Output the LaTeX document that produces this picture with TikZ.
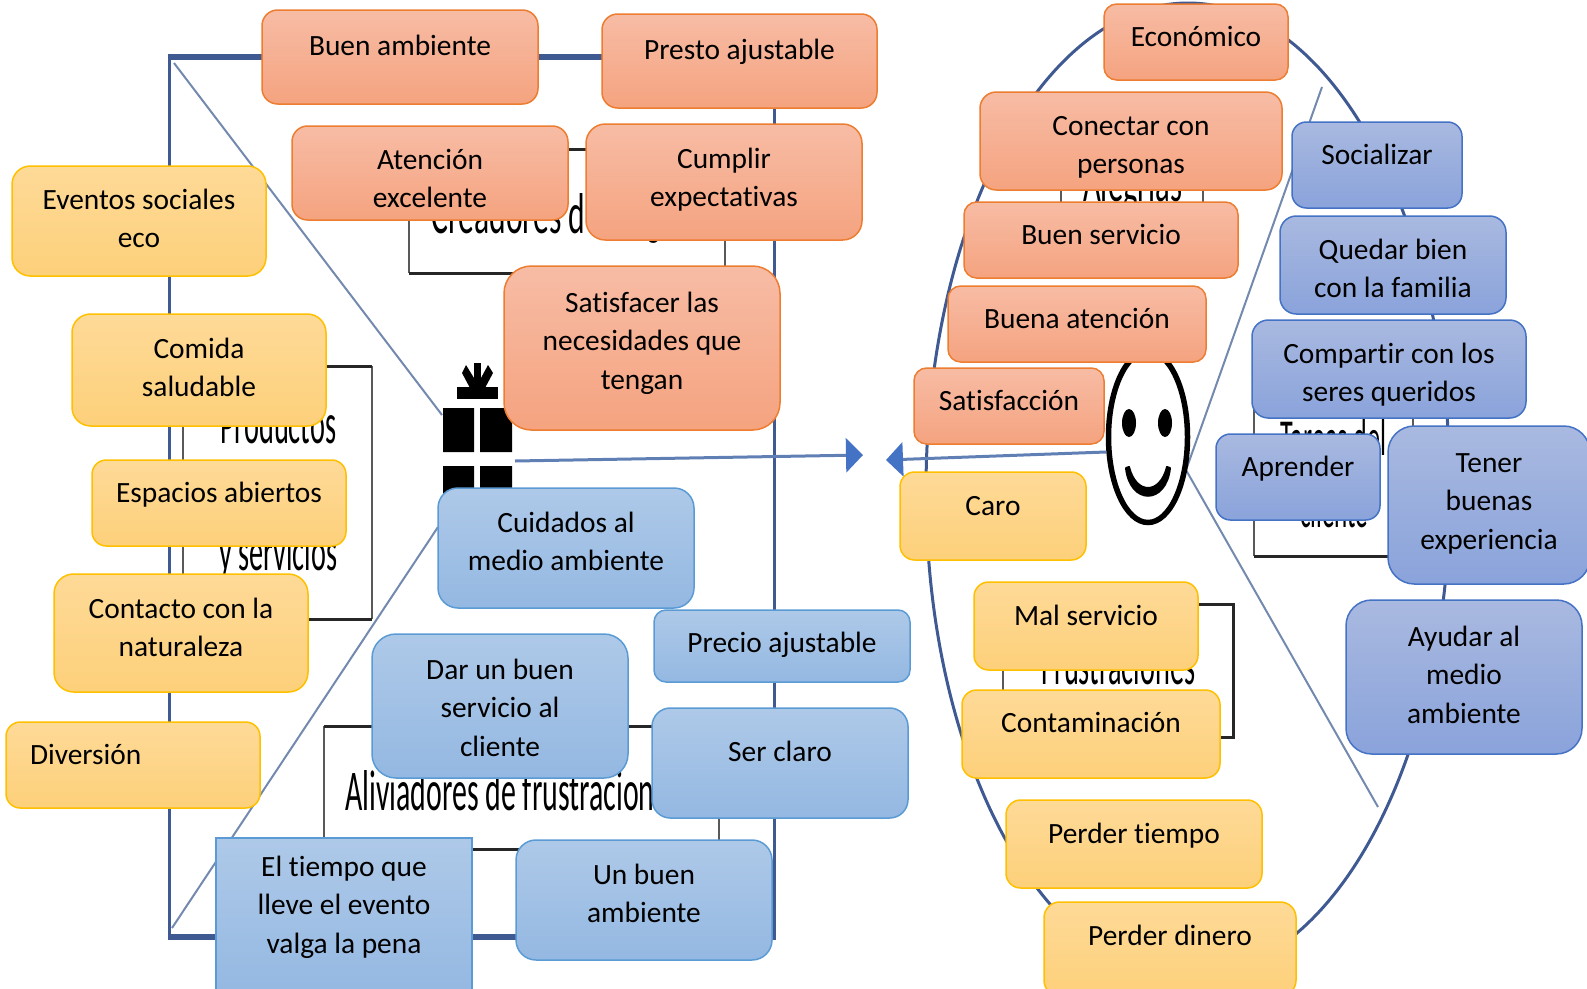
\documentclass[tikz,border=0pt]{standalone}
\usepackage{fontspec}
\setmainfont[Ligatures=NoCommon]{Carlito}
\usetikzlibrary{arrows.meta}
\definecolor{frameblue}{HTML}{3F5A92}
\definecolor{thinblue}{HTML}{7389AE}
\definecolor{arrowblue}{HTML}{4472C4}
\definecolor{arrowstem}{HTML}{5F7FB5}
\tikzset{
  basebox/.style={draw,inner sep=0pt,line width=1.5pt,font=\fontsize{29.4}{38.7}\selectfont},
  orangebox/.style={basebox,draw={rgb,255:red,237;green,125;blue,49},top color={rgb,255:red,247;green,188;blue,165},bottom color={rgb,255:red,245;green,163;blue,127}},
  yellowbox/.style={basebox,draw={rgb,255:red,255;green,192;blue,0},top color={rgb,255:red,254;green,218;blue,152},bottom color={rgb,255:red,253;green,208;blue,122}},
  bluebox/.style={basebox,draw={rgb,255:red,91;green,155;blue,213},top color={rgb,255:red,174;green,201;blue,232},bottom color={rgb,255:red,148;green,184;blue,226}},
  indigobox/.style={basebox,draw={rgb,255:red,68;green,114;blue,196},top color={rgb,255:red,169;green,185;blue,224},bottom color={rgb,255:red,138;green,163;blue,219}},
  framethin/.style={draw=frameblue,line width=3pt},
  framethick/.style={draw=frameblue,line width=6pt},
  diagline/.style={draw=thinblue,line width=2pt},
  blackedge/.style={draw=black!85,line width=3pt},
  grayedge/.style={draw=black!65,line width=2pt},
  arrowstyle/.style={draw=arrowstem,line width=3pt,-{Triangle[length=17pt,width=34pt,color=arrowblue]}},
  bgtext/.style={inner sep=0pt,anchor=base west,font=\fontsize{60}{60}\selectfont},
}
\newcommand{\bx}[8]{%
  \pgfmathsetmacro{\boxW}{#5-#3}%
  \pgfmathsetmacro{\boxH}{#6-#4}%
  \pgfmathsetmacro{\boxD}{#7-#4}%
  \pgfmathsetmacro{\boxR}{min(\boxW,\boxH)/6}%
  \node[rounded corners=\boxR pt,#2] (#1) at ({(#3+#5)/2},{(#4+#6)/2})
    {\parbox[c][\boxH pt][t]{\boxW pt}{\centering\rule{0pt}{\boxD pt}#8}};%
}
\newcommand{\bgt}[6]{\node[bgtext] (#1) at (#2,#3) {\resizebox{#4pt}{#5pt}{#6}};}
\begin{document}
\begin{tikzpicture}[x=1pt,y=-1pt]
\path[use as bounding box,clip] (0,0) rectangle (1587,988);
% square
\draw[framethin] (169,57) rectangle (774,937);
\draw[framethick] (168,57) -- (776,57);
\draw[framethick] (168,937) -- (776,937);
\draw[diagline] (174,63) -- (442,415);
\draw[diagline] (172,928) -- (438,527);
% inner frames of the square
\draw[grayedge] (409,149) -- (409,273) (725,149) -- (725,273);
\draw[blackedge] (409,149) -- (725,149) (409,273) -- (725,273);
\bgt{creadores}{431}{233}{276}{40}{Creadores de alegrías}
\draw[grayedge] (183,366) -- (183,619) (372,366) -- (372,619);
\draw[blackedge] (183,366) -- (372,366) (183,619) -- (372,619);
\bgt{productos}{220}{443}{116}{40}{Productos}
\bgt{servicios}{219}{570}{118}{38}{y servicios}
\draw[grayedge] (324,726) -- (324,849) (719,726) -- (719,849);
\draw[blackedge] (324,726) -- (719,726) (324,849) -- (719,849);
\bgt{aliviadores}{345}{810}{336}{40}{Aliviadores de frustraciones}
% gift
\fill[black] (474,363) rectangle (481,388);
\fill[black] (466,365) -- (474,378) -- (474,388) -- (470,388) -- (462,373) -- cycle;
\fill[black] (488,365) -- (481,378) -- (481,388) -- (485,388) -- (493,373) -- cycle;
\fill[black] (457,387) rectangle (498,399);
\fill[black] (443,408) rectangle (474,452) (480,408) rectangle (512,452);
\fill[black] (443,466) rectangle (474,500) (480,466) rectangle (512,500);
% circle
\draw[framethin] (1188,490) ellipse [x radius=262,y radius=487];
\coordinate (vtop) at (1322,87);
\coordinate (vmid) at (1186,470);
\coordinate (vbot) at (1378,807);
\draw[diagline] (vtop) -- (vmid) -- (vbot);
% inner frames of the circle
\draw[grayedge] (1061,150) -- (1061,250) (1203,150) -- (1203,250);
\bgt{alegrias}{1083}{201}{99}{40}{Alegrías}
\draw[grayedge] (1254,400) -- (1254,556) (1413,400) -- (1413,556);
\draw[blackedge] (1254,556) -- (1413,556);
\bgt{tareas}{1280}{455}{106}{36}{Tareas del}
\bgt{cliente}{1300}{527}{68}{36}{cliente}
\draw[grayedge] (1003,604) -- (1003,737);
\draw[blackedge] (1003,604) -- (1233,604) -- (1233,737) -- (1003,737);
\bgt{frustraciones}{1041}{684}{154}{40}{Frustraciones}
% smiley
\draw[black,line width=5.5pt,fill=white] (1148,437) ellipse [x radius=39.5,y radius=85.5];
\fill[black] (1129,423) ellipse [x radius=7,y radius=14] (1165,423) ellipse [x radius=7,y radius=14];
\filldraw[black,line width=2pt,line join=round] (1126,468) .. controls (1130,505) and (1166,505) .. (1170,468) -- (1167,467) .. controls (1160,495) and (1136,495) .. (1129,467) -- cycle;
% arrows
\coordinate (giftout) at (515,461);
\coordinate (gifttip) at (863,455);
\coordinate (faceout) at (1106,452);
\coordinate (facetip) at (886,460);
\draw[arrowstyle] (giftout) -- (gifttip);
\draw[arrowstyle] (faceout) -- (facetip);
% orange boxes
\bx{buenamb}{orangebox}{262}{10}{538}{104}{55}{Buen ambiente}
\bx{presto}{orangebox}{602}{14}{877}{108}{59}{Presto ajustable}
\bx{atencion}{orangebox}{292}{126}{568}{220}{169}{Atención\\excelente}
\bx{cumplir}{orangebox}{586}{124}{862}{240}{168}{Cumplir\\expectativas}
\bx{satisfacer}{orangebox}{504}{266}{780}{430}{312}{Satisfacer las\\necesidades que\\tengan}
\bx{economico}{orangebox}{1104}{4}{1288}{80}{46}{Económico}
\bx{conectar}{orangebox}{980}{92}{1282}{190}{135}{Conectar con\\personas}
\bx{buenserv}{orangebox}{964}{202}{1238}{278}{244}{Buen servicio}
\bx{buenaat}{orangebox}{948}{286}{1206}{362}{328}{Buena atención}
\bx{satisf}{orangebox}{914}{368}{1104}{444}{410}{Satisfacción}
% yellow boxes
\bx{eventos}{yellowbox}{12}{166}{266}{276}{209}{Eventos sociales\\eco}
\bx{comida}{yellowbox}{72}{314}{326}{426}{358}{Comida\\saludable}
\bx{espacios}{yellowbox}{92}{460}{346}{546}{502}{Espacios abiertos}
\bx{contacto}{yellowbox}{54}{574}{308}{692}{618}{Contacto con la\\naturaleza}
\bx{diversion}{yellowbox}{6}{722}{260}{808}{764}{\raggedright\hspace*{24pt}Diversión}
\bx{caro}{yellowbox}{900}{472}{1086}{560}{515}{Caro}
\bx{malserv}{yellowbox}{974}{582}{1198}{670}{625}{Mal servicio}
\bx{contam}{yellowbox}{962}{690}{1220}{778}{732}{Contaminación}
\bx{ptiempo}{yellowbox}{1006}{800}{1262}{888}{843}{Perder tiempo}
\bx{pdinero}{yellowbox}{1044}{902}{1296}{996}{945}{Perder dinero}
% blue boxes
\bx{cuidados}{bluebox}{438}{488}{694}{608}{532}{Cuidados al\\medio ambiente}
\bx{precio}{bluebox}{654}{610}{910}{682}{652}{Precio ajustable}
\bx{darbuen}{bluebox}{372}{634}{628}{778}{679}{Dar un buen\\servicio al\\cliente}
\bx{serclaro}{bluebox}{652}{708}{908}{818}{761}{Ser claro}
\bx{eltiempo}{bluebox,sharp corners}{216}{838}{472}{996}{876}{El tiempo que\\lleve el evento\\valga la pena}
\bx{unbuen}{bluebox}{516}{840}{772}{960}{884}{Un buen\\ambiente}
% indigo boxes
\bx{socializar}{indigobox}{1292}{122}{1462}{208}{164}{Socializar}
\bx{quedar}{indigobox}{1280}{216}{1506}{314}{259}{Quedar bien\\con la familia}
\bx{compartir}{indigobox}{1252}{320}{1526}{418}{363}{Compartir con los\\seres queridos}
\bx{aprender}{indigobox}{1216}{434}{1380}{520}{476}{Aprender}
\bx{tener}{indigobox}{1388}{426}{1590}{584}{472}{Tener\\buenas\\experiencia}
\bx{ayudar}{indigobox}{1346}{600}{1582}{754}{646}{Ayudar al\\medio\\ambiente}
\end{tikzpicture}
\end{document}
